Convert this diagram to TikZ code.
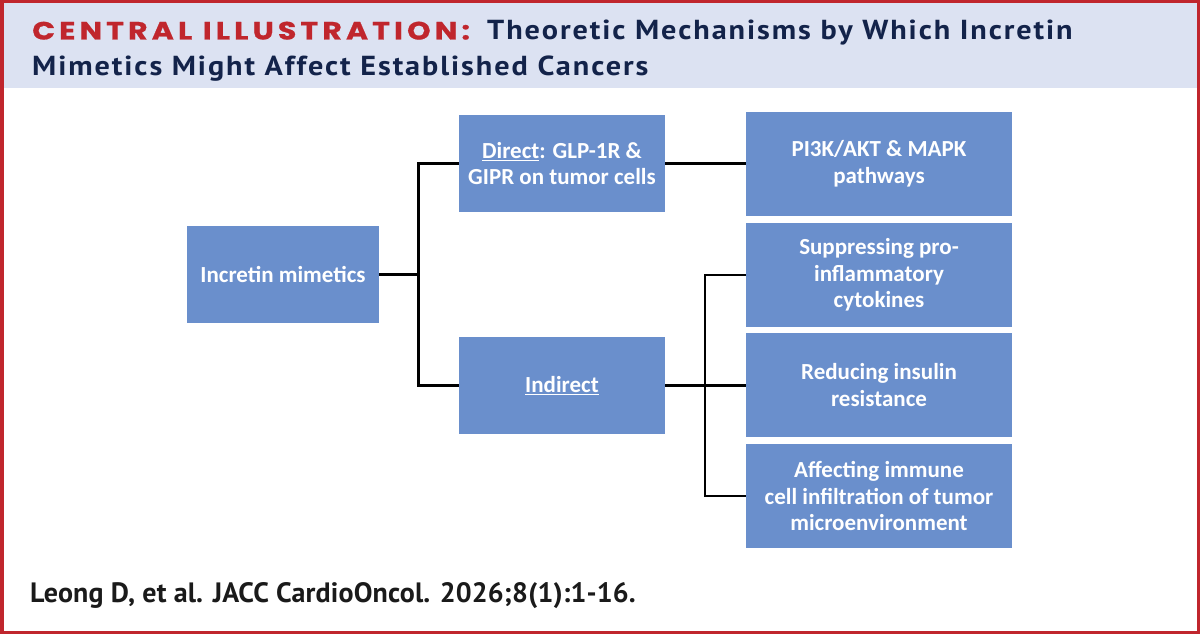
\documentclass[tikz,border=0pt]{standalone}
\usepackage{fontspec}
\setmainfont{Carlito}
\newfontfamily\redfont[FakeStretch=1.2,LetterSpace=16.5,BoldFeatures={FakeBold=0.8}]{Poppins}
\newfontfamily\navyfont[FakeStretch=1.1,LetterSpace=7]{PT Sans}
\newfontfamily\footfont[LetterSpace=0.5]{PT Sans}
\newfontfamily\boxfont{Carlito}
\definecolor{jred}{HTML}{C0262D}
\definecolor{jnavy}{HTML}{13234A}
\definecolor{band}{HTML}{DCE2F2}
\definecolor{boxblue}{HTML}{6A8FCC}
\definecolor{foot}{HTML}{1A1A1A}
\tikzset{
  bluebox/.style={fill=boxblue, draw=none, text=white, align=center,
    font=\boxfont\bfseries\fontsize{23}{26.7}\selectfont, inner sep=0pt},
  conn/.style={draw=black, line width=2.6pt, line join=miter},
}
\begin{document}
\begin{tikzpicture}[x=1pt,y=-1pt]
\useasboundingbox (0,0) rectangle (1200,634);
% frame and header band
\fill[jred] (0,0) rectangle (1200,634);
\fill[white] (3.5,3.5) rectangle (1196.5,630.5);
\fill[band] (3.5,3.5) rectangle (1196.5,88.5);
% title
\node[anchor=base west, inner sep=0pt, text=jred, font=\redfont\bfseries\fontsize{25}{28}\selectfont] (t0) at (32,39.5)
  {CENTRAL ILLUSTRATION:};
\node[anchor=base west, inner sep=0pt, text=jnavy, font=\navyfont\bfseries\fontsize{27.5}{32}\selectfont] (t1) at (487,40)
  {Theoretic Mechanisms by Which Incretin};
\node[anchor=base west, inner sep=0pt, text=jnavy, font=\navyfont\bfseries\fontsize{27.5}{32}\selectfont] (t2) at (32,75)
  {Mimetics Might Affect Established Cancers};
% boxes
\node[bluebox, minimum width=192pt, minimum height=97pt] (inc) at (283,274.5) {Incretin mimetics};
\node[bluebox, minimum width=206pt, minimum height=97pt] (dir) at (562,163.5) {\underline{Direct}: GLP-1R \&\\GIPR on tumor cells};
\node[bluebox, minimum width=206pt, minimum height=97pt] (ind) at (562,385.5) {\underline{Indirect}};
\node[bluebox, minimum width=266pt, minimum height=104pt] (pi) at (879,164) {PI3K/AKT \& MAPK\\pathways};
\node[bluebox, minimum width=266pt, minimum height=104pt] (sup) at (879,275) {Suppressing pro-\\inflammatory\\cytokines};
\node[bluebox, minimum width=266pt, minimum height=104pt] (red) at (879,385) {Reducing insulin\\resistance};
\node[bluebox, minimum width=266pt, minimum height=104pt] (aff) at (879,496) {Affecting immune\\cell infiltration of tumor\\microenvironment};
% connectors
\coordinate (j1) at (418.5,274.5);
\coordinate (j2) at (705,385.5);
\draw[conn] (inc.east) -- (j1);
\draw[conn] (dir.west) -| (j1) |- (ind.west);
\draw[conn] (dir.east) -- (dir.east -| pi.west);
\draw[conn] (ind.east) -- (ind.east -| red.west);
\draw[conn] (sup.west) -| (j2) |- (aff.west);
% footer
\node[anchor=base west, inner sep=0pt, text=foot, font=\footfont\bfseries\fontsize{28}{32}\selectfont] (cite) at (30,602)
  {Leong D, et al. JACC CardioOncol. 2026;8(1):1-16.};
\end{tikzpicture}
\end{document}
